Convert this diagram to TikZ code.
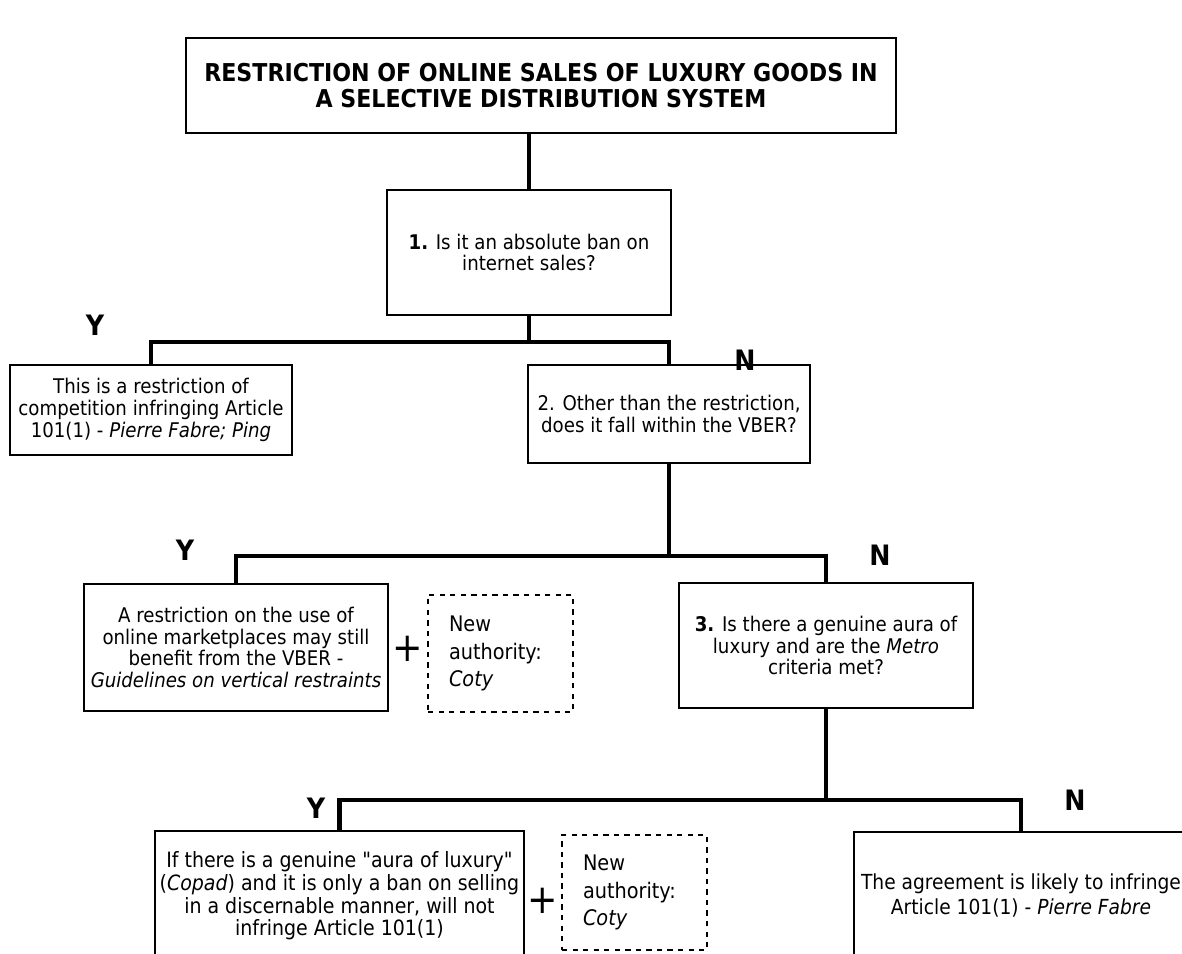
\documentclass[tikz,border=0pt]{standalone}
\usepackage{fontspec}
\setmainfont{DejaVu Sans Condensed}[Ligatures=TeXOff]
\usetikzlibrary{positioning,calc}
\tikzset{
	box/.style={draw, line width=1.1pt, align=center, inner sep=1pt, font=\fontsize{11.5}{12.4}\selectfont},
	authbox/.style={draw, dashed, line width=0.8pt, align=left, inner xsep=0.42cm, text width=2.06cm, font=\fontsize{12.2}{15.5}\selectfont},
	link/.style={line width=2.6pt},
	yn/.style={font=\fontsize{16}{18}\selectfont\bfseries},
	plus/.style={font=\fontsize{23}{23}\selectfont}
}
\begin{document}
\begin{tikzpicture}[x=0.02cm,y=-0.02cm]
		\useasboundingbox (0,0) rectangle (1182,953);
		\clip (0,0) rectangle (1182,953);
		\node[box, line width=1.4pt, minimum width=14.2cm, minimum height=1.9cm, font=\fontsize{14}{14.8}\selectfont\bfseries] (title) at (541,85.5) {RESTRICTION OF ONLINE SALES OF LUXURY GOODS IN\\A SELECTIVE DISTRIBUTION SYSTEM};
		\node[box, minimum width=5.68cm, minimum height=2.5cm] (q1) at (529,252.5) {\textbf{1.} Is it an absolute ban on\\internet sales?};
		\node[box, minimum width=5.64cm, minimum height=1.8cm] (r1) at (151,410) {This is a restriction of\\competition infringing Article\\101(1) - \textit{Pierre Fabre; Ping}};
		\node[box, minimum width=5.64cm, minimum height=1.96cm] (q2) at (669,414) {2. Other than the restriction,\\does it fall within the VBER?};
		\node[box, minimum width=6.08cm, minimum height=2.54cm] (r2) at (236,647.5) {A restriction on the use of\\online marketplaces may still\\benefit from the VBER -\\\textit{Guidelines on vertical restraints}};
		\node[authbox, minimum height=2.34cm] (auth1) at (500.5,653.5) {New\\authority:\\\textit{Coty}};
		\node[box, minimum width=5.88cm, minimum height=2.5cm] (q3) at (826,645.5) {\textbf{3.} Is there a genuine aura of\\luxury and are the \textit{Metro}\\criteria met?};
		\node[box, minimum width=7.38cm, minimum height=2.6cm, font=\fontsize{12}{12.9}\selectfont] (r3) at (339.5,896) {If there is a genuine "aura of luxury"\\(\textit{Copad}) and it is only a ban on selling\\in a discernable manner, will not\\infringe Article 101(1)};
		\node[authbox, minimum height=2.3cm] (auth2) at (634.5,892.5) {New\\authority:\\\textit{Coty}};
		\node[box, minimum width=6.7cm, minimum height=2.54cm, font=\fontsize{11.8}{14.2}\selectfont] (r4) at (1021,895.5) {The agreement is likely to infringe\\Article 101(1) - \textit{Pierre Fabre}};
		\node[plus] (p1) at (408,649) {+};
		\node[plus] (p2) at (543,901) {+};
		\node[yn] (y1) at (95,325) {Y};
		\node[yn] (n1) at (745,360) {N};
		\node[yn] (y2) at (185,550) {Y};
		\node[yn] (n2) at (880,555) {N};
		\node[yn] (y3) at (316,808) {Y};
		\node[yn] (n3) at (1075,800) {N};
		\coordinate (j1) at (529,342);
		\coordinate (j2) at (669,556);
		\coordinate (j3) at (826,800);
		\draw[link] (q1.north) -- (q1.north |- title.south);
		\draw[link] (q1.south) -- (j1);
		\draw[link] (r1.north) |- (j1) -| (q2.north);
		\draw[link] (q2.south) -- (j2);
		\draw[link] (r2.north) |- (j2) -| (q3.north);
		\draw[link] (q3.south) -- (j3);
		\draw[link] (r3.north) |- (j3) -| (r4.north);
\end{tikzpicture}
\end{document}
